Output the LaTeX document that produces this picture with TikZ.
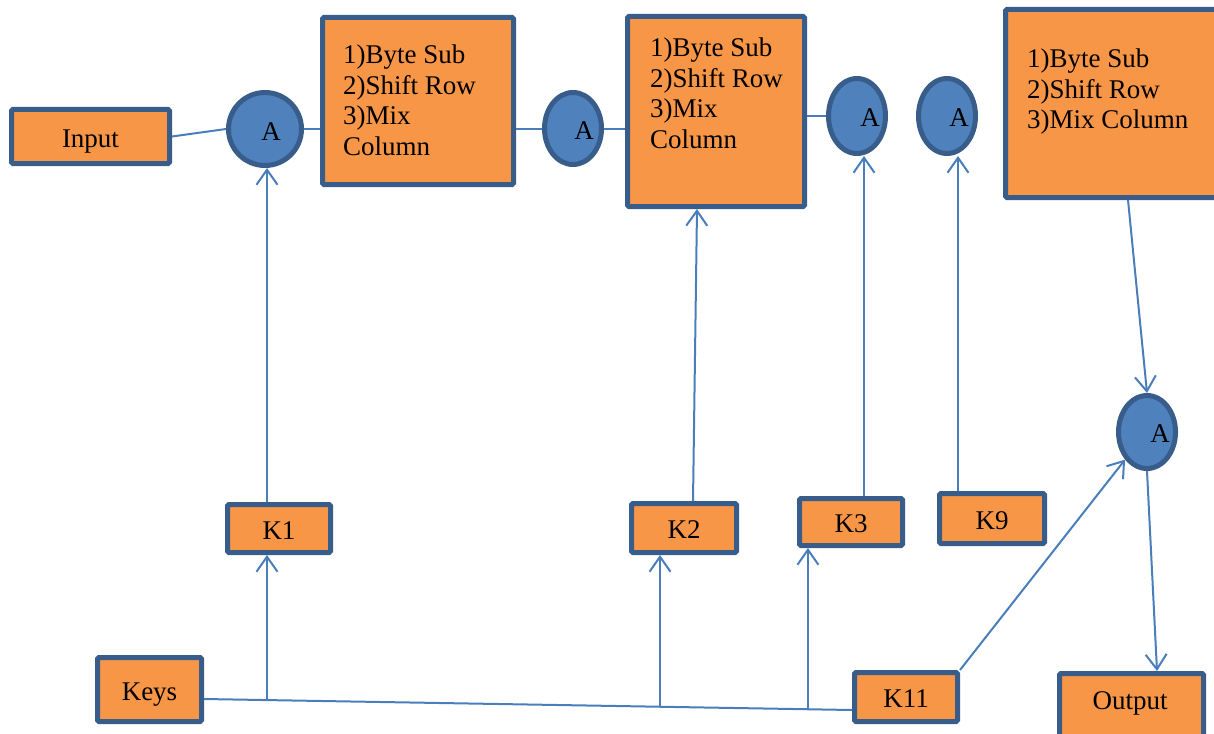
\documentclass[tikz,border=0pt]{standalone}
\usepackage{fontspec}
\setmainfont{Liberation Serif}
\usetikzlibrary{arrows.meta,shapes.geometric,calc}
\definecolor{boxfill}{HTML}{F79646}
\definecolor{boxline}{HTML}{385D8A}
\definecolor{xorfill}{HTML}{4F81BD}
\definecolor{wirecol}{HTML}{4A7EBB}

\begin{document}
\begin{tikzpicture}[x=1pt,y=-1pt,
  font=\fontsize{27}{30.5}\selectfont,
  stagebox/.style={draw=boxline,fill=boxfill,line width=5pt,rounded corners=1.5pt,inner sep=0pt,
                   text height=21pt,text depth=0pt},
  xornode/.style={ellipse,draw=boxline,fill=xorfill,line width=5pt,inner sep=0pt,
                  minimum width=57pt,minimum height=75pt},
  steptext/.style={anchor=north west,inner sep=0pt,align=left},
  lbl/.style={inner sep=0pt,text height=21pt,text depth=0pt},
  wire/.style={draw=wirecol,line width=2pt},
  feed/.style={wire,-{Straight Barb[length=15pt,width=21pt]}},
]
\path[use as bounding box] (0,0) rectangle (1214,733);
\clip (0,0) rectangle (1214,733);

% round blocks
\node[stagebox,minimum width=191pt,minimum height=167pt] (box1) at (418,101) {};
\node[steptext] (box1t) at (343,45) {1)Byte Sub\\2)Shift Row\\3)Mix\\Column};
\node[stagebox,minimum width=177pt,minimum height=190pt] (box2) at (716,111.5) {};
\node[steptext] (box2t) at (650,38) {1)Byte Sub\\2)Shift Row\\3)Mix\\Column};
\node[stagebox,minimum width=232pt,minimum height=188pt] (box3) at (1121.5,103.5) {};
\node[steptext] (box3t) at (1027,49) {1)Byte Sub\\2)Shift Row\\3)Mix Column};

% input, keys and output
\node[stagebox,minimum width=158pt,minimum height=54pt] (input) at (90.5,136.5) {Input};
\node[stagebox,minimum width=104pt,minimum height=64pt] (keys) at (149.5,689.5) {Keys};
\node[stagebox,minimum width=103pt,minimum height=48pt] (k1) at (279,528.5) {K1};
\node[stagebox,minimum width=105pt,minimum height=49pt] (k2) at (684,528) {K2};
\node[stagebox,minimum width=103pt,minimum height=47pt] (k3) at (851,522) {K3};
\node[stagebox,minimum width=105pt,minimum height=50pt] (k9) at (992,518.5) {K9};
\node[stagebox,minimum width=103pt,minimum height=49pt] (k11) at (906,697) {K11};
\node[stagebox,minimum width=144pt,minimum height=64pt] (output) at (1131.5,705.5) {};
\node[lbl] (outputt) at (1130,698.5) {Output};

% add-round-key nodes
\node[xornode,minimum width=73pt,minimum height=73pt] (a1) at (265,129) {};
\node[inner sep=0pt] (a1t) at (271,132) {A};
\node[xornode,minimum height=72pt] (a2) at (573,128.5) {};
\node[inner sep=0pt] (a2t) at (584,131) {A};
\node[xornode] (a3) at (857,116) {};
\node[inner sep=0pt] (a3t) at (870,118) {A};
\node[xornode] (a4) at (947,116) {};
\node[inner sep=0pt] (a4t) at (959,118) {A};
\node[xornode,minimum height=73pt] (a5) at (1147,432) {};
\node[inner sep=0pt] (a5t) at (1160,434) {A};

% data path
\draw[wire] (input.east) -- (a1.west);
\draw[wire] (a1.east) -- (a1.east -| box1.west);
\draw[wire] (box1.east |- a2.west) -- (a2.west);
\draw[wire] (a2.east) -- (a2.east -| box2.west);
\draw[wire] (box2.east |- a3.west) -- (a3.west);

% key bus
\coordinate (kin) at ($(keys.east)+(0,9.5)$);
\coordinate (kout) at ($(k11.west)+(0,13)$);
\draw[wire] (kin) -- (kout);
\coordinate (br1) at ($(kin)!0.0972!(kout)$);
\coordinate (br2) at ($(kin)!0.7037!(kout)$);
\coordinate (br3) at ($(kin)!0.932!(kout)$);
\draw[feed] (br1) -- (br1 |- k1.south);
\draw[feed] (br2) -- (br2 |- k2.south);
\draw[feed] (br3) -- (br3 |- k3.south);

% round keys into the rounds
\draw[feed] (br1 |- k1.north) -- (br1 |- a1.south);
\draw[feed] ($(k2.north)+(9,0)$) -- ($(box2.south)+(-19,0)$);
\draw[feed] ($(k3.north)+(13,0)$) -- ($(a3.south)+(7,0)$);
\draw[feed] ($(k9.north)+(-34,0)$) -- ($(a4.south)+(11,0)$);
\draw[feed] ($(box3.south)+(6.5,0)$) -- (a5.north);
\draw[feed] (k11.north east) -- (a5.south west);
\draw[feed] (a5.south) -- ($(output.north)+(25.5,0)$);
\end{tikzpicture}
\end{document}
